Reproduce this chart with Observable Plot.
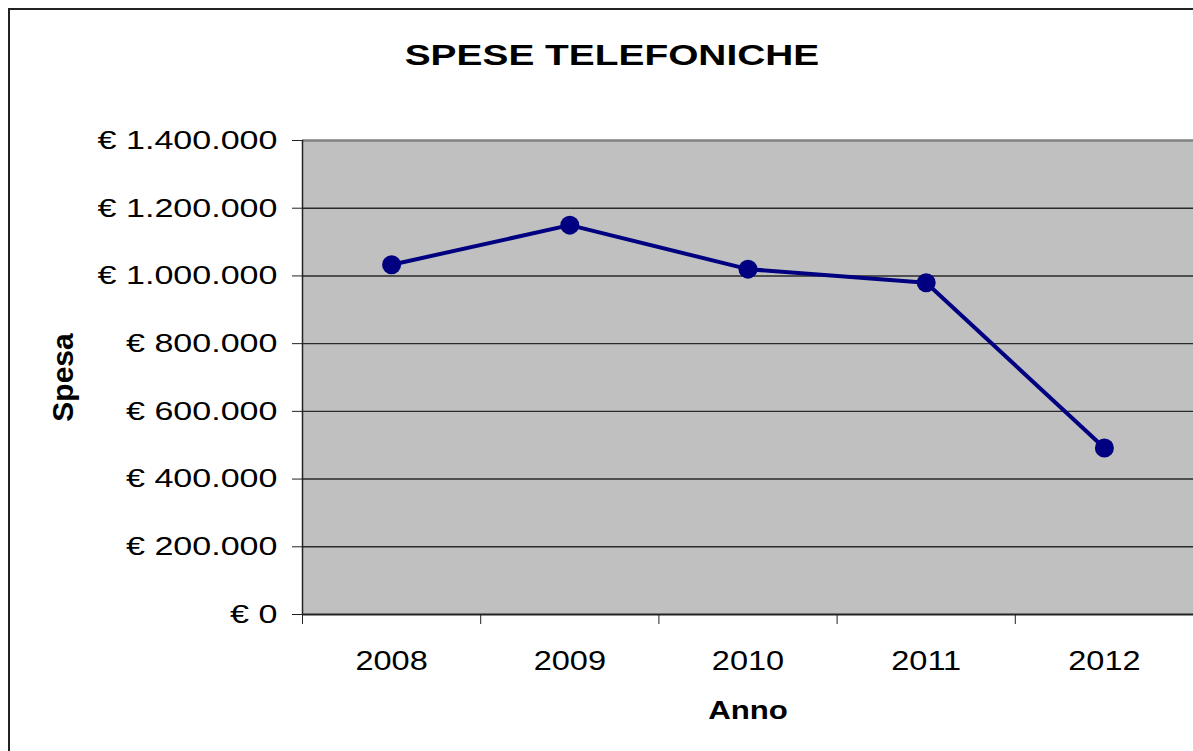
<!DOCTYPE html>
<html><head><meta charset="utf-8">
<script src="https://cdn.jsdelivr.net/npm/d3@7"></script>
<script src="https://cdn.jsdelivr.net/npm/@observablehq/plot@0.6"></script>
<style>
body{margin:0;background:#fff;overflow:hidden;font-family:"Liberation Sans",Arial,sans-serif}
#wrap{position:relative;width:1193px;height:751px;overflow:hidden;background:#fff}
#frame{position:absolute;left:8px;top:8px;width:1300px;height:900px;border:2px solid #222;box-sizing:border-box}
#title{position:absolute;top:41px;left:0;width:1224px;text-align:center;font-weight:bold;font-size:29px;line-height:29px;transform:scaleX(1.34);transform-origin:center;color:#000}
#chart{position:absolute;left:0;top:100px}
</style>
</head><body>
<div id="wrap"><div id="frame"></div><div id="title">SPESE TELEFONICHE</div><div id="chart"></div></div>
<script>
const years = ["2008", "2009", "2010", "2011", "2012"];
const spesa = [1033000, 1150000, 1020000, 980000, 492000];
const yTicks = [0, 200000, 400000, 600000, 800000, 1000000, 1200000, 1400000];
const yGrid = [200000, 400000, 600000, 800000, 1000000, 1200000];
const boundaries = [-0.5, 0.5, 1.5, 2.5, 3.5];
const idx = years.map((_, i) => i);
const data = years.map((y, i) => ({i, anno: y, v: spesa[i]}));

const itLocale = d3.formatLocale({decimal: ",", thousands: ".", grouping: [3], currency: ["€ ", ""]});
const fmt = v => "€ " + itLocale.format(",")(v);

const plot = Plot.plot({
  width: 1193,
  height: 651,
  marginTop: 40,
  marginBottom: 137,
  marginLeft: 302,
  marginRight: 0,
  style: {fontFamily: '"Liberation Sans", Arial, sans-serif', color: "#000", background: "transparent", overflow: "visible"},
  x: {type: "linear", domain: [-0.5, 4.5]},
  y: {domain: [0, 1400000]},
  marks: [
    Plot.frame({fill: "#c0c0c0"}),
    Plot.ruleY(yGrid, {stroke: "#2a2a2a", strokeWidth: 1.4}),
    Plot.ruleY([1400000], {stroke: "#808080", strokeWidth: 2.5}),
    Plot.ruleY([0], {stroke: "#222", strokeWidth: 2}),
    Plot.ruleX([-0.5], {stroke: "#222", strokeWidth: 1.5}),
    Plot.axisY({ticks: yTicks, tickSize: 10, tickPadding: 15, tickFormat: fmt, fontSize: 26, label: null, stroke: "#222"}),
    Plot.axisX({ticks: boundaries, tickSize: 10, tickFormat: () => "", label: null, stroke: "#222"}),
    Plot.axisX({ticks: idx, tickSize: 0, tickPadding: 36, tickFormat: i => years[i], fontSize: 28, label: null}),
    Plot.text(["Spesa"], {frameAnchor: "left", dx: -239, rotate: -90, textAnchor: "middle", lineAnchor: "middle", fontSize: 30, fontWeight: "bold", fill: "#000"}),
    Plot.text(["Anno"], {frameAnchor: "bottom", dy: 96, textAnchor: "middle", lineAnchor: "middle", fontSize: 26, fontWeight: "bold", fill: "#000"}),
    Plot.line(data, {x: "i", y: "v", stroke: "#000080", strokeWidth: 4}),
    Plot.dot(data, {x: "i", y: "v", r: 9.5, fill: "#000080", stroke: "none"})
  ]
});
document.getElementById("chart").appendChild(plot);

function stretch(sel, k) {
  plot.querySelectorAll(sel).forEach(t => {
    if (!t.textContent) return;
    const len = t.getComputedTextLength();
    t.setAttribute("textLength", (len * k).toFixed(1));
    t.setAttribute("lengthAdjust", "spacingAndGlyphs");
  });
}
stretch('g[aria-label="y-axis tick label"] text', 1.31);
stretch('g[aria-label="x-axis tick label"] text', 1.16);
plot.querySelectorAll('g[aria-label="text"] text').forEach(t => {
  if (t.textContent === "Anno") {
    const len = t.getComputedTextLength();
    t.setAttribute("textLength", (len * 1.2).toFixed(1));
    t.setAttribute("lengthAdjust", "spacingAndGlyphs");
  }
});
</script>
</body></html>
